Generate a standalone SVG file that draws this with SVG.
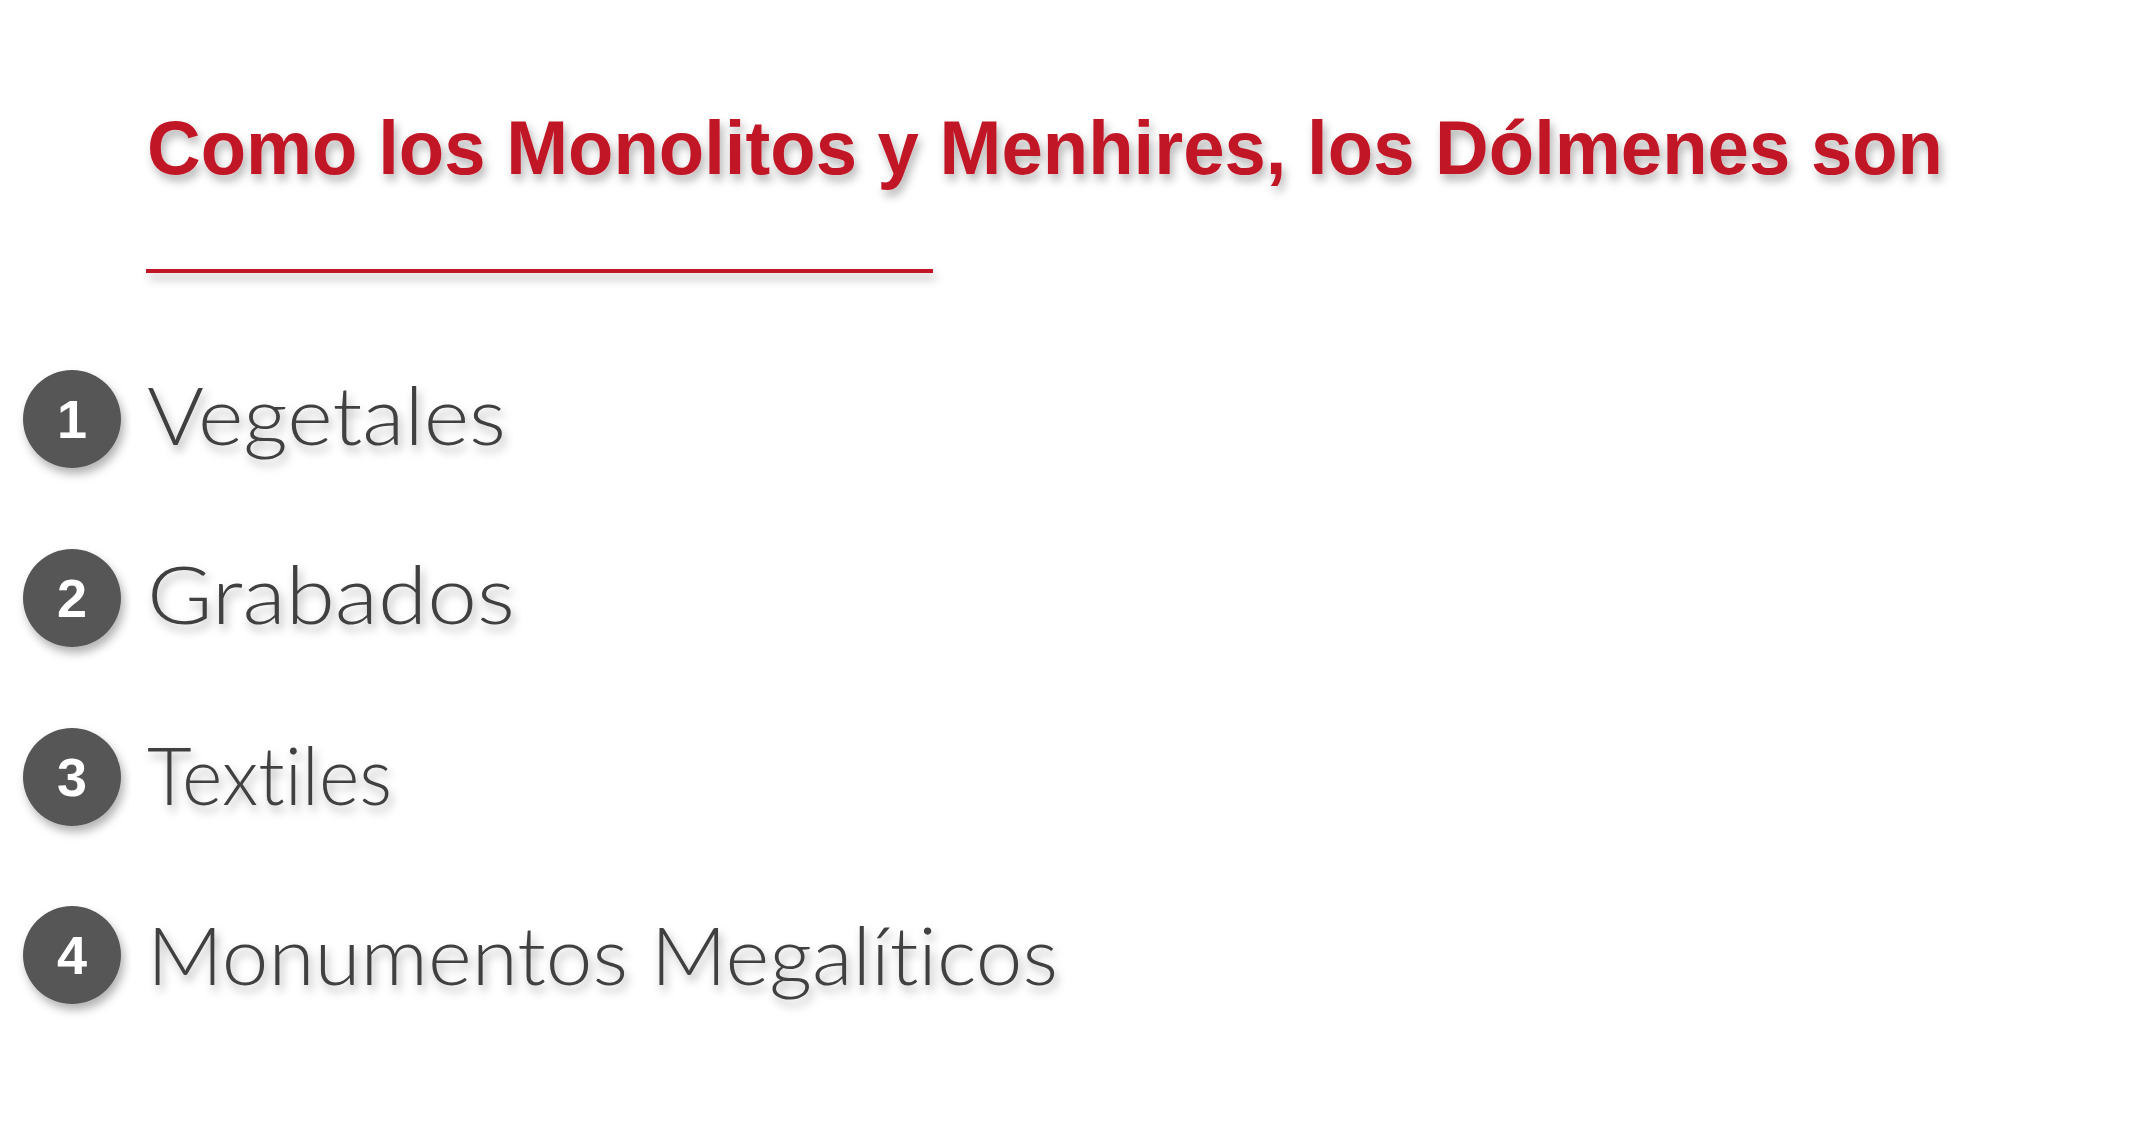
<svg xmlns="http://www.w3.org/2000/svg" width="2133" height="1133" viewBox="0 0 2133 1133">
<defs>
<filter id="sh" x="-10%" y="-30%" width="120%" height="160%">
<feDropShadow dx="3" dy="6" stdDeviation="5" flood-color="#000" flood-opacity="0.3"/>
</filter>
<style>
.title{font-family:"Liberation Sans",Arial,sans-serif;font-weight:bold;font-size:76px;fill:#C01626}
.item{font-family:Lato,"Liberation Sans",sans-serif;font-weight:300;font-size:80px;fill:#404040;font-variant-ligatures:none;font-feature-settings:"liga" 0}
.num{font-family:"Liberation Sans",Arial,sans-serif;font-weight:bold;font-size:54px;fill:#fff;text-anchor:middle}
.badge{fill:#575757}
</style>
</defs>
<rect width="2133" height="1133" fill="#fff"/>
<g id="title" filter="url(#sh)">
<text class="title" x="147" y="174" textLength="1796" lengthAdjust="spacingAndGlyphs">Como los Monolitos y Menhires, los Dólmenes son</text>
<rect x="146" y="269" width="787" height="4" fill="#C01626"/>
</g>
<g id="item1">
<circle class="badge" cx="72" cy="419" r="49" filter="url(#sh)"/>
<text class="num" x="72" y="438">1</text>
<text class="item" x="147" y="445" textLength="359" lengthAdjust="spacingAndGlyphs" filter="url(#sh)">Vegetales</text>
</g>
<g id="item2">
<circle class="badge" cx="72" cy="598" r="49" filter="url(#sh)"/>
<text class="num" x="72" y="617">2</text>
<text class="item" x="147" y="624" textLength="368" lengthAdjust="spacingAndGlyphs" filter="url(#sh)">Grabados</text>
</g>
<g id="item3">
<circle class="badge" cx="72" cy="777" r="49" filter="url(#sh)"/>
<text class="num" x="72" y="796">3</text>
<text class="item" x="147" y="805" textLength="245" lengthAdjust="spacingAndGlyphs" filter="url(#sh)">Textiles</text>
</g>
<g id="item4">
<circle class="badge" cx="72" cy="955" r="49" filter="url(#sh)"/>
<text class="num" x="72" y="974">4</text>
<text class="item" x="147" y="985" textLength="911" lengthAdjust="spacingAndGlyphs" filter="url(#sh)">Monumentos Megalíticos</text>
</g>
<g id="connectors"/>
</svg>
